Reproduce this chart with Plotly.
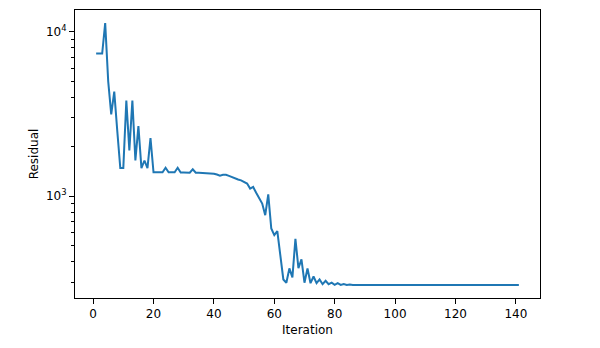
import plotly.graph_objects as go
import numpy as np

iterations = list(range(1, 142))
residual_head = [
    7380, 7380, 7380, 11300, 5000, 3150, 4330, 2500, 1484, 1484,   # 1-10
    3820, 1900, 3820, 1650, 2670, 1484, 1650, 1484, 2255, 1400,    # 11-20
    1400, 1400, 1400, 1490, 1400, 1400, 1400, 1490, 1395, 1395,    # 21-30
    1395, 1390, 1458, 1390, 1388, 1385, 1382, 1378, 1370, 1372,    # 31-40
    1355, 1335, 1350, 1350, 1330, 1305, 1285, 1265, 1250, 1225,    # 41-50
    1194, 1113, 1139, 1050, 968, 902, 767, 1028, 637, 580,         # 51-60
    614, 429, 312, 298, 364, 321, 550, 365, 413, 298,              # 61-70
    364, 296, 325, 296, 312, 292, 306, 292, 298, 289,              # 71-80
    296, 289, 293, 289, 291, 289, 290,                             # 81-87
]
converged_value = 289
residual = residual_head + [converged_value] * (len(iterations) - len(residual_head))

y_tickvals = [1000, 10000]
y_ticktext = ["10<sup>3</sup>", "10<sup>4</sup>"]
y_minor = [200, 300, 400, 500, 600, 700, 800, 900,
           2000, 3000, 4000, 5000, 6000, 7000, 8000, 9000, 20000]
x_tickvals = [0, 20, 40, 60, 80, 100, 120, 140]

lo, hi = np.log10(min(residual)), np.log10(max(residual))
pad = 0.05 * (hi - lo)
xpad = 0.05 * (iterations[-1] - iterations[0])

fig = go.Figure(go.Scatter(x=iterations, y=residual, mode="lines",
                           line=dict(color="#1f77b4", width=2)))

font = dict(family="DejaVu Sans", size=12, color="black")
fig.update_layout(
    width=592, height=340,
    margin=dict(l=67, r=60, t=2, b=50),
    paper_bgcolor="white", plot_bgcolor="white",
    showlegend=False, font=font,
)
fig.update_xaxes(
    range=[iterations[0] - xpad, iterations[-1] + xpad],
    tickvals=x_tickvals, ticks="outside", ticklen=5, tickwidth=1, tickcolor="black",
    showline=True, linecolor="black", linewidth=1, mirror=True,
    showgrid=False, zeroline=False,
    title=dict(text="Iteration", font=font, standoff=5),
)
fig.update_yaxes(
    type="log", range=[lo - pad, hi + pad],
    tickvals=y_tickvals, ticktext=y_ticktext,
    ticks="outside", ticklen=5, tickwidth=1, tickcolor="black",
    minor=dict(tickvals=y_minor, ticks="outside", ticklen=3, tickwidth=1,
               tickcolor="black", showgrid=False),
    showline=True, linecolor="black", linewidth=1, mirror=True,
    showgrid=False, zeroline=False,
    title=dict(text="Residual", font=font, standoff=4),
)
fig.write_html("out.html")
